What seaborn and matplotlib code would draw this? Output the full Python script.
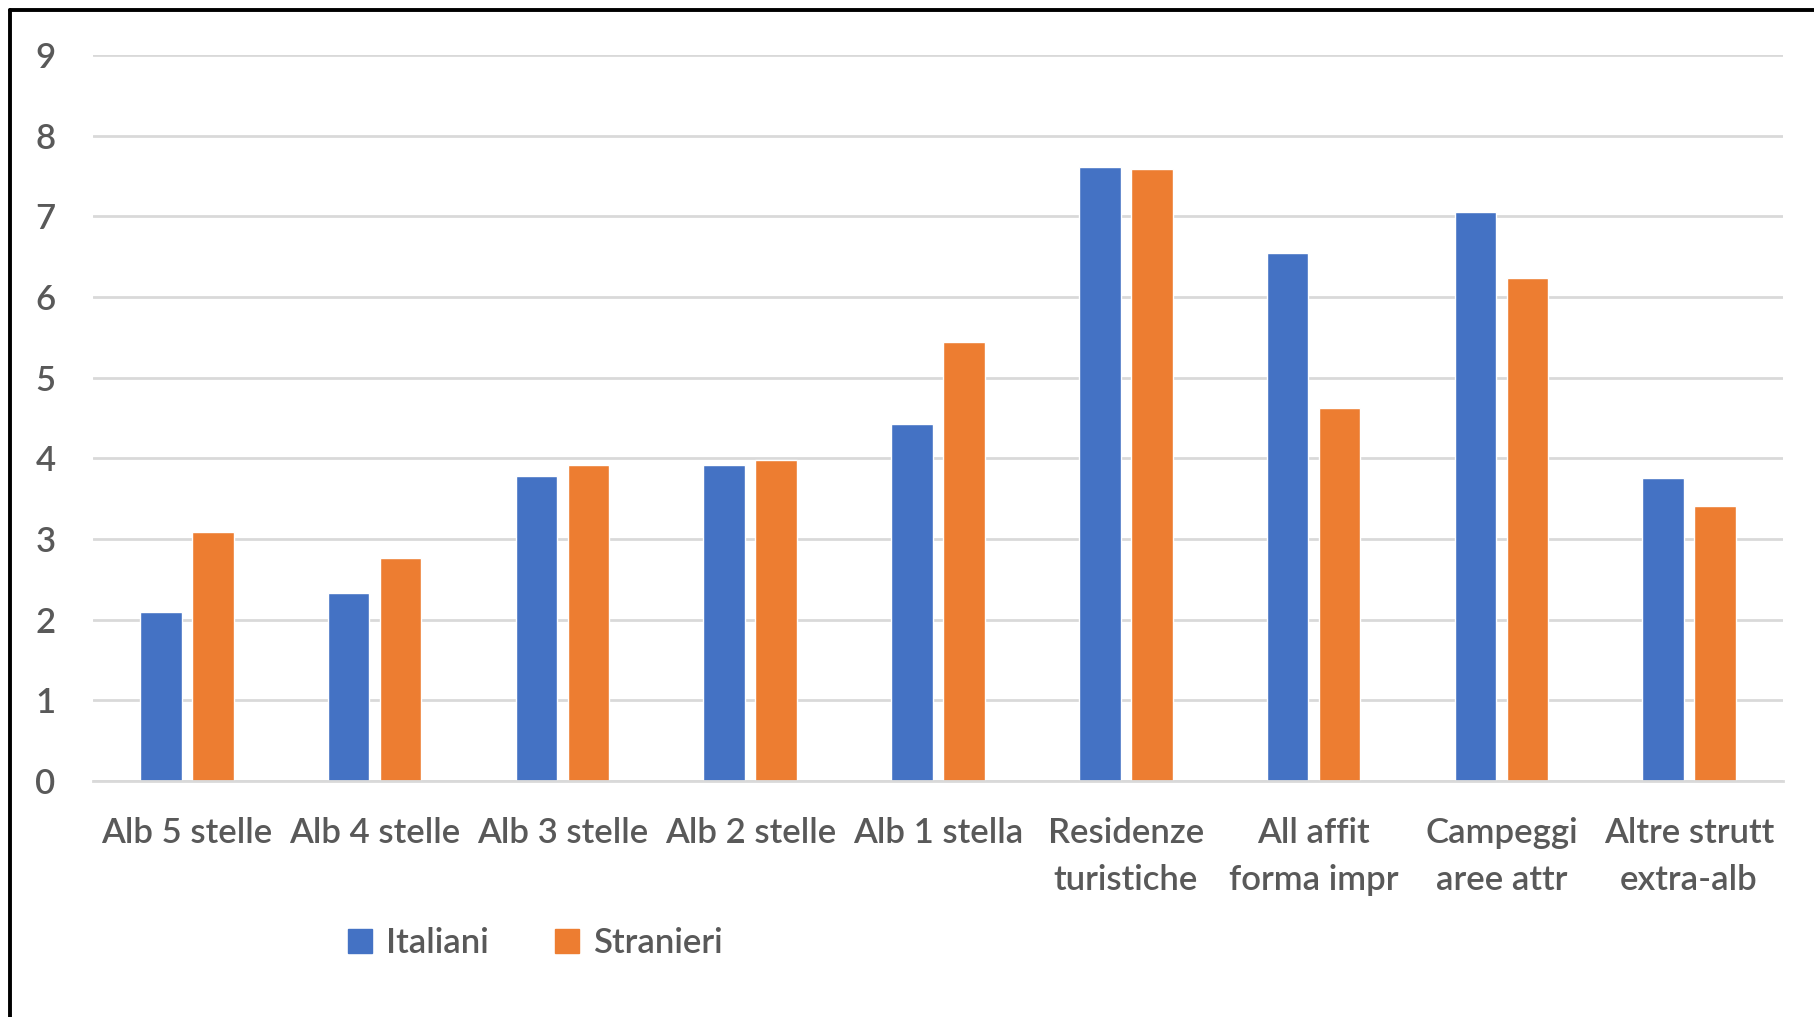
import numpy as np
import pandas as pd
import matplotlib
matplotlib.use("Agg")
import matplotlib.pyplot as plt
import seaborn as sns
from matplotlib.lines import Line2D

categorie = ["Alb 5 stelle", "Alb 4 stelle", "Alb 3 stelle", "Alb 2 stelle", "Alb 1 stella",
             "Residenze\nturistiche", "All affit\nforma impr", "Campeggi\naree attr",
             "Altre strutt\nextra-alb"]
italiani = [2.09, 2.33, 3.78, 3.92, 4.42, 7.61, 6.55, 7.05, 3.76]
stranieri = [3.09, 2.76, 3.92, 3.98, 5.44, 7.59, 4.62, 6.24, 3.41]
serie = ["Italiani", "Stranieri"]
colori = ["#4472C4", "#ED7D31"]

df = pd.DataFrame({
    "categoria": categorie * 2,
    "valore": italiani + stranieri,
    "serie": [serie[0]] * len(categorie) + [serie[1]] * len(categorie),
})

sns.set_theme(style="white")
plt.rcParams["font.family"] = ["Lato", "DejaVu Sans"]
plt.rcParams["font.weight"] = 600

W, H = 1814, 1017
fig = plt.figure(figsize=(W / 100, H / 100), dpi=100)
ax = fig.add_axes([93 / W, 1 - 781 / H, (1783 - 93) / W, (781 - 55) / H])

sns.barplot(data=df, x="categoria", y="valore", hue="serie", palette=colori,
            width=0.554, gap=0.2, ax=ax, legend=False, saturation=1)

ax.set_xlim(-0.5, len(categorie) - 0.5)
ax.set_ylim(0, 9)
ax.set_yticks(range(0, 10))
ax.yaxis.grid(True, color="#D9D9D9", linewidth=2)
ax.set_axisbelow(True)
for s in ["top", "right", "left"]:
    ax.spines[s].set_visible(False)
ax.spines["bottom"].set_color("#D9D9D9")
ax.spines["bottom"].set_linewidth(2)
ax.set_xlabel("")
ax.set_ylabel("")
ax.tick_params(axis="both", length=0, labelsize=25, labelcolor="#595959")
ax.tick_params(axis="x", pad=26)
ax.tick_params(axis="y", pad=27)
for lab in ax.get_xticklabels() + ax.get_yticklabels():
    lab.set_linespacing(1.56)
    lab.set_fontweight(600)

# legenda
handles = [plt.Rectangle((0, 0), 1, 1, color=c) for c in colori]
fig.legend(handles, serie, loc="center", bbox_to_anchor=(535 / W, 1 - 943 / H),
           ncol=2, frameon=False, handlelength=0.7, handleheight=0.7,
           handletextpad=0.4, columnspacing=1.9, labelcolor="#595959",
           prop={"size": 25, "weight": 600})

# cornice
fig.add_artist(Line2D([10 / W, 10 / W], [0, 1 - 10 / H], color="black", linewidth=2.8))
fig.add_artist(Line2D([10 / W, 1], [1 - 10 / H, 1 - 10 / H], color="black", linewidth=2.8))

fig.savefig("out.png", dpi=100)
